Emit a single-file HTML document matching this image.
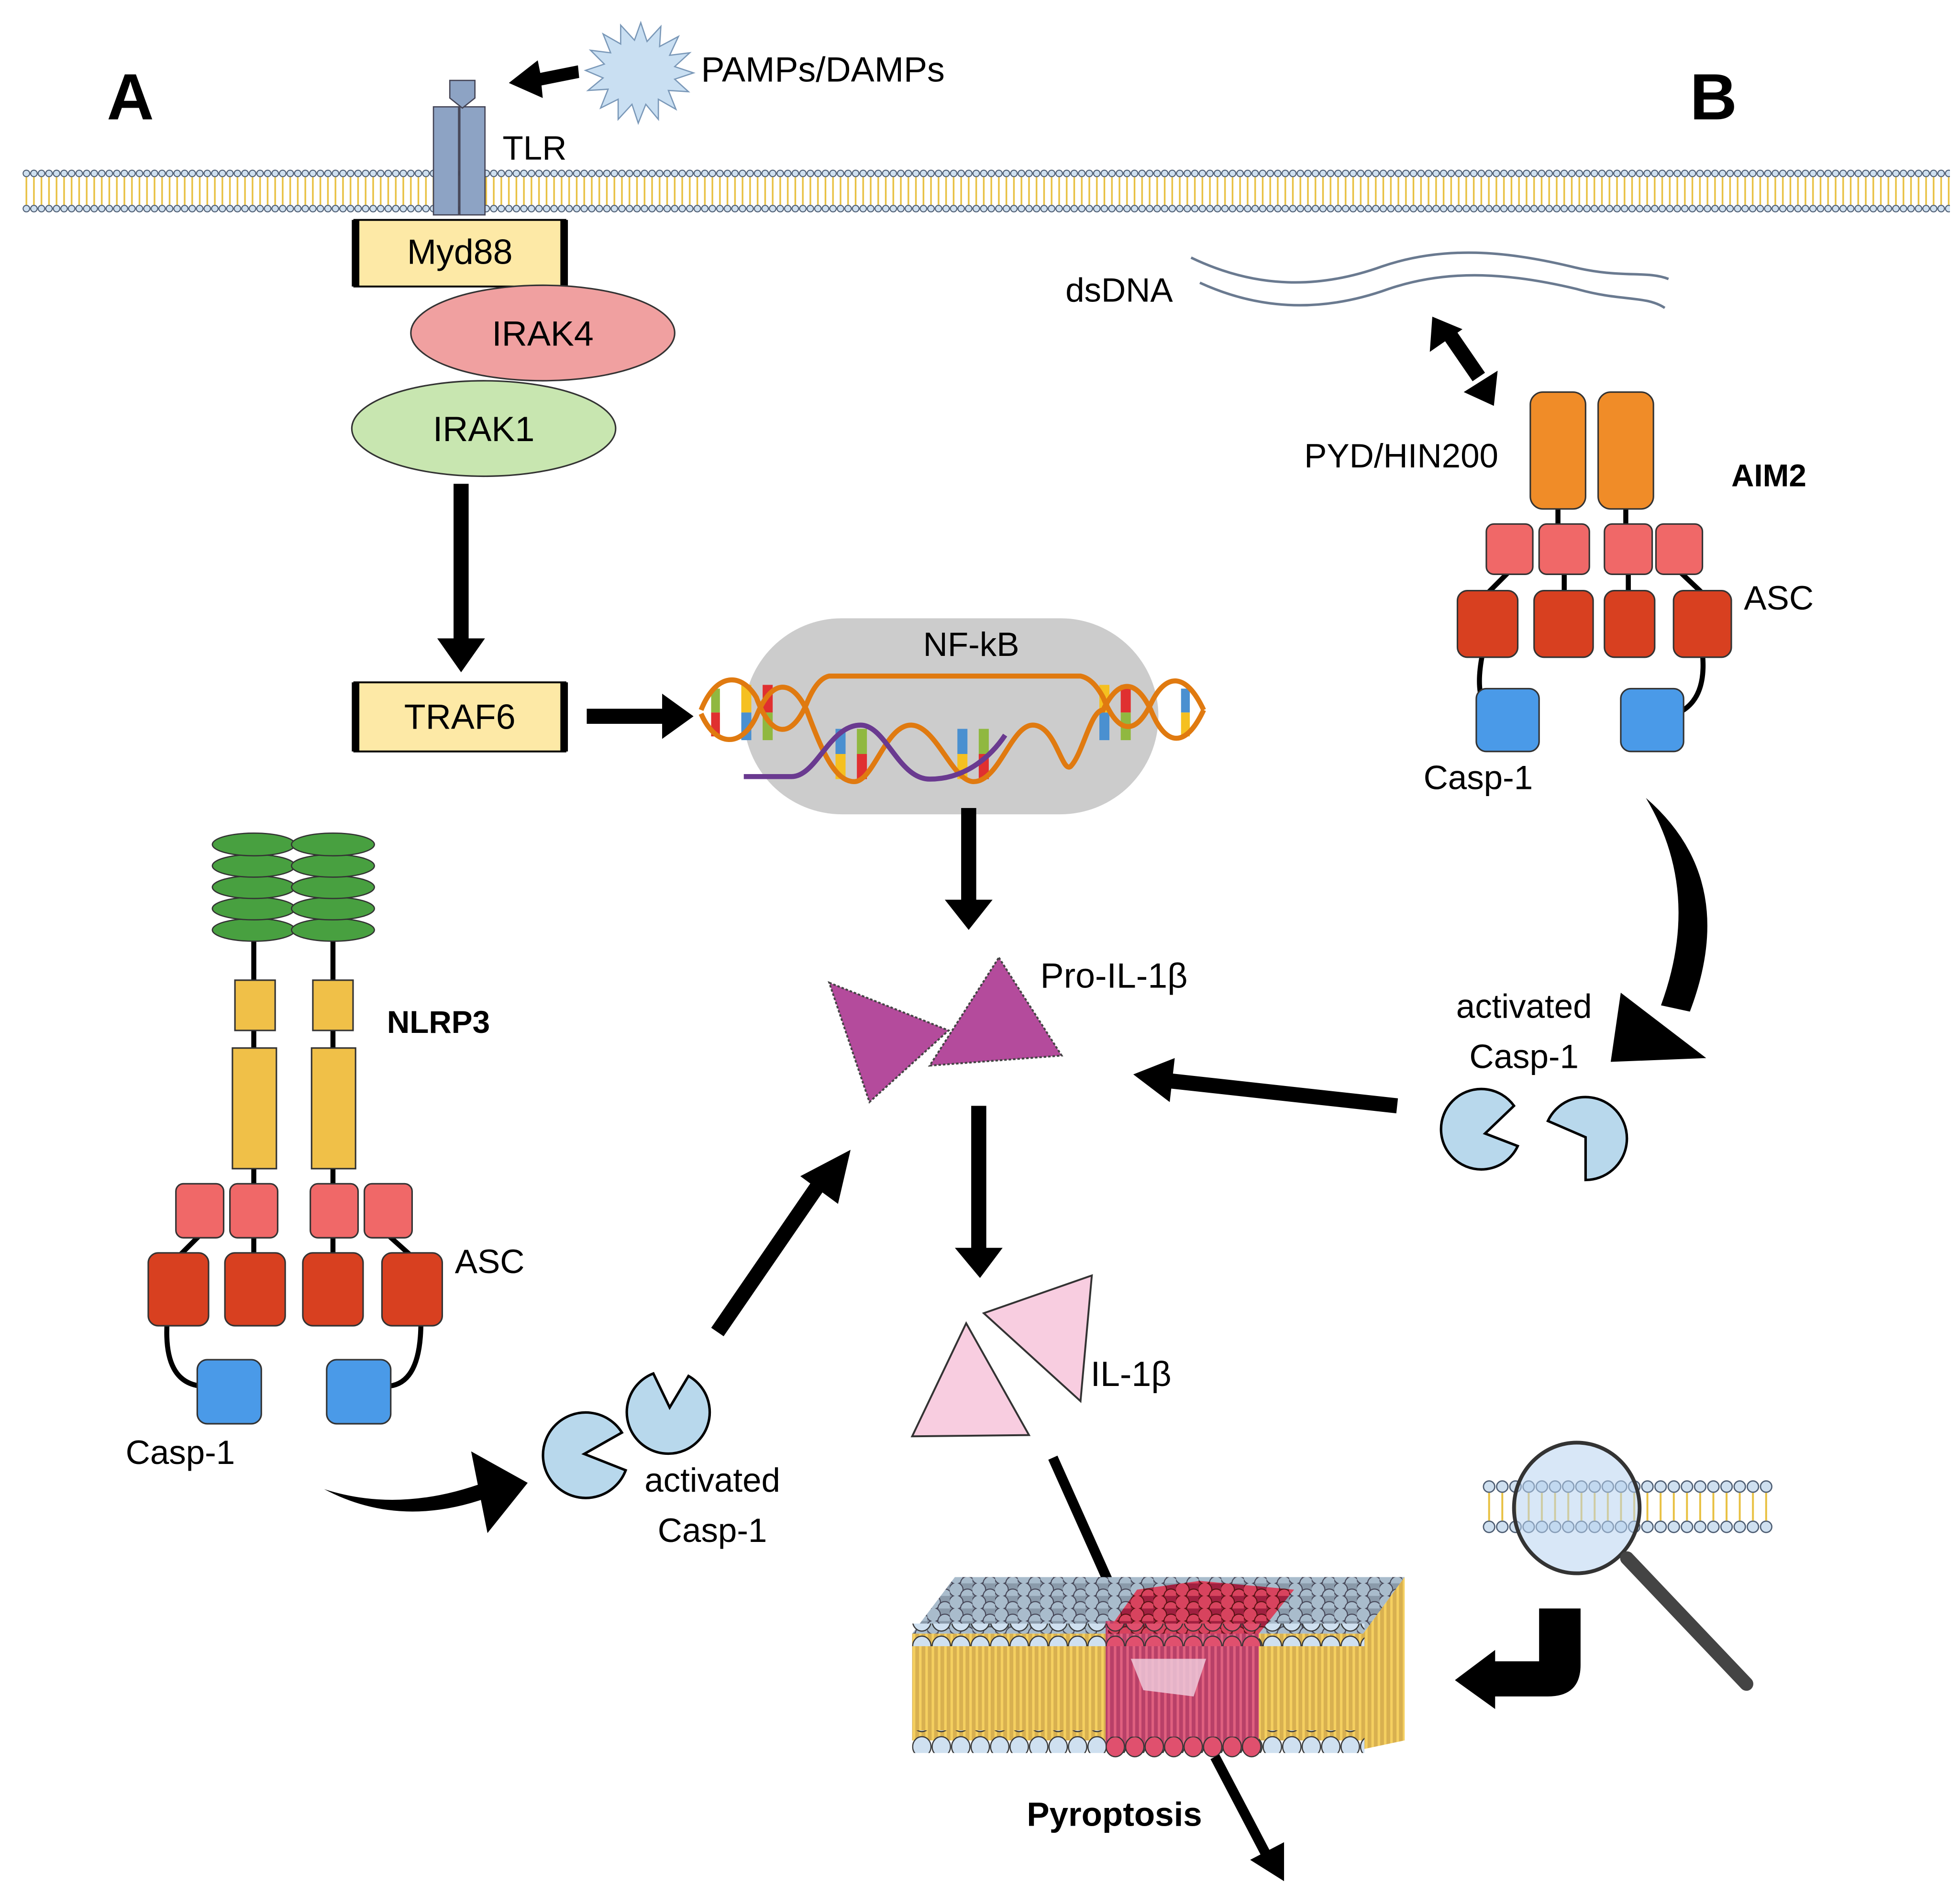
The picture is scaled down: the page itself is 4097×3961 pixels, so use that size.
<!DOCTYPE html>
<html><head><meta charset="utf-8"><style>html,body{margin:0;padding:0;background:#fff}svg{display:block}</style></head>
<body>
<svg width="4097" height="3961" viewBox="0 0 1560 1508" preserveAspectRatio="none" xmlns="http://www.w3.org/2000/svg" font-family="Liberation Sans, sans-serif">
<defs>
<pattern id="heads" x="18" y="0" width="6" height="200" patternUnits="userSpaceOnUse">
<circle cx="3" cy="138" r="2.6" fill="#cfe0f0" stroke="#4a5a70" stroke-width="0.8"/>
<circle cx="3" cy="166" r="2.6" fill="#cfe0f0" stroke="#4a5a70" stroke-width="0.8"/>
<line x1="3" y1="141" x2="3" y2="163" stroke="#e8c040" stroke-width="1.3"/>
</pattern>
<pattern id="heads2" x="1180" y="1175" width="10.5" height="48" patternUnits="userSpaceOnUse">
<circle cx="5.2" cy="8" r="4.5" fill="#cfe0f0" stroke="#4a5a70" stroke-width="1"/>
<circle cx="5.2" cy="40" r="4.5" fill="#cfe0f0" stroke="#4a5a70" stroke-width="1"/>
<line x1="5.2" y1="13" x2="5.2" y2="35" stroke="#e8c040" stroke-width="1.5"/>
</pattern>
<pattern id="slabtop" x="0" y="0" width="18" height="10" patternUnits="userSpaceOnUse">
<rect width="18" height="10" fill="#8a9aaa"/>
<circle cx="5" cy="5" r="5.5" fill="#a9bccc" stroke="#445" stroke-width="0.8"/>
<circle cx="14" cy="10" r="5.5" fill="#a9bccc" stroke="#445" stroke-width="0.8"/>
</pattern>
<pattern id="slabtopr" x="0" y="0" width="18" height="10" patternUnits="userSpaceOnUse">
<rect width="18" height="10" fill="#a02040"/>
<circle cx="5" cy="5" r="5.5" fill="#d8435e" stroke="#511" stroke-width="0.8"/>
<circle cx="14" cy="10" r="5.5" fill="#d8435e" stroke="#511" stroke-width="0.8"/>
</pattern>
<pattern id="tails" x="0" y="0" width="5" height="20" patternUnits="userSpaceOnUse">
<rect width="5" height="20" fill="#d8b050"/>
<line x1="2.5" y1="0" x2="2.5" y2="20" stroke="#f5d060" stroke-width="2"/>
</pattern>
<pattern id="ptails" x="0" y="0" width="5" height="20" patternUnits="userSpaceOnUse">
<rect width="5" height="20" fill="#b84068"/>
<line x1="2.5" y1="0" x2="2.5" y2="20" stroke="#e0607f" stroke-width="2"/>
</pattern>
<pattern id="fronth" x="726" y="0" width="15.5" height="20" patternUnits="userSpaceOnUse">
<ellipse cx="7.7" cy="10" rx="7.3" ry="8" fill="#cfe0f0" stroke="#333" stroke-width="0.9"/>
</pattern>
<pattern id="fronthr" x="880" y="0" width="15.5" height="20" patternUnits="userSpaceOnUse">
<ellipse cx="7.7" cy="10" rx="7.3" ry="8" fill="#e0506e" stroke="#333" stroke-width="0.9"/>
</pattern>
</defs>

<text x="85" y="95" font-size="52" font-weight="bold">A</text>
<text x="1345" y="95" font-size="52" font-weight="bold">B</text>

<rect x="18" y="133" width="1534" height="38" fill="url(#heads)"/>

<rect x="345" y="85" width="20" height="86" fill="#8da3c4" stroke="#445" stroke-width="1"/>
<rect x="366" y="85" width="20" height="86" fill="#8da3c4" stroke="#445" stroke-width="1"/>
<path d="M358 64 L378 64 L378 78 L368 86 L358 78 Z" fill="#8da3c4" stroke="#445" stroke-width="1"/>
<text x="400" y="127" font-size="27">TLR</text>
<path d="M460 52 L430 58 L428 48 L405 66 L432 78 L431 68 L461 62 Z" fill="#000"/>
<path fill="#c9dff2" stroke="#7a98b8" stroke-width="1"
d="M510 18 L515 33 L526 21 L525 37 L540 29 L533 44 L549 42 L537 53 L552 58 L537 63 L548 73 L532 72 L538 87 L524 79 L524 95 L514 83 L508 98 L503 83 L492 95 L492 79 L478 86 L484 71 L468 72 L480 62 L466 56 L481 51 L470 40 L486 42 L480 27 L494 35 L494 20 L505 32 Z"/>
<text x="558" y="65" font-size="28">PAMPs/DAMPs</text>

<rect x="282" y="175" width="168" height="53" fill="#fde9a6" stroke="#000" stroke-width="1.5"/>
<rect x="280" y="175" width="6" height="53" fill="#000"/><rect x="446" y="175" width="6" height="53" fill="#000"/>
<text x="366" y="210" font-size="28" text-anchor="middle">Myd88</text>
<ellipse cx="432" cy="265" rx="105" ry="38" fill="#f0a0a0" stroke="#333" stroke-width="1.2"/>
<text x="432" y="275" font-size="28" text-anchor="middle">IRAK4</text>
<ellipse cx="385" cy="341" rx="105" ry="38" fill="#c8e6b0" stroke="#333" stroke-width="1.2"/>
<text x="385" y="351" font-size="28" text-anchor="middle">IRAK1</text>
<rect x="361" y="385" width="12" height="125" fill="#000"/>
<path d="M348 508 L386 508 L367 535 Z"/>
<rect x="282" y="543" width="168" height="55" fill="#fde9a6" stroke="#000" stroke-width="1.5"/>
<rect x="280" y="543" width="6" height="55" fill="#000"/><rect x="446" y="543" width="6" height="55" fill="#000"/>
<text x="366" y="580" font-size="28" text-anchor="middle">TRAF6</text>
<rect x="467" y="564" width="62" height="12" fill="#000"/>
<path d="M527 552 L552 570 L527 588 Z"/>

<rect x="592" y="492" width="330" height="156" rx="78" fill="#cccccc"/>
<text x="773" y="522" font-size="27" text-anchor="middle">NF-kB</text>
<g stroke="none">
<rect x="590" y="545" width="8" height="22" fill="#f5c020"/><rect x="590" y="567" width="8" height="22" fill="#4a90d0"/>
<rect x="607" y="545" width="8" height="22" fill="#e03030"/><rect x="607" y="567" width="8" height="22" fill="#90b840"/>
<rect x="566" y="548" width="7" height="19" fill="#90b840"/><rect x="566" y="567" width="7" height="19" fill="#e03030"/>
<rect x="875" y="545" width="8" height="22" fill="#f5c020"/><rect x="875" y="567" width="8" height="22" fill="#4a90d0"/>
<rect x="892" y="545" width="8" height="22" fill="#e03030"/><rect x="892" y="567" width="8" height="22" fill="#90b840"/>
<rect x="940" y="548" width="7" height="19" fill="#4a90d0"/><rect x="940" y="567" width="7" height="19" fill="#f5c020"/>
<rect x="665" y="580" width="8" height="20" fill="#4a90d0"/><rect x="665" y="600" width="8" height="20" fill="#f5c020"/>
<rect x="682" y="580" width="8" height="20" fill="#90b840"/><rect x="682" y="600" width="8" height="20" fill="#e03030"/>
<rect x="762" y="580" width="8" height="20" fill="#4a90d0"/><rect x="762" y="600" width="8" height="20" fill="#f5c020"/>
<rect x="779" y="580" width="8" height="20" fill="#90b840"/><rect x="779" y="600" width="8" height="20" fill="#e03030"/>
</g>
<g stroke-width="4" fill="none">
<path d="M558 565 C570 535,590 535,602 555 C614 588,630 588,642 560 Q650 540,660 538 L860 538 Q870 540,878 555 C890 585,904 585,916 560 C928 535,944 535,958 565" stroke="#e07a10"/>
<path d="M558 568 C570 595,590 595,602 570 C614 540,630 540,642 565 C655 600,665 622,680 622 C695 622,705 577,725 577 C745 577,758 622,775 622 C795 622,805 577,822 577 C840 577,845 615,852 610 C862 600,868 565,878 565 C890 540,904 540,916 565 C928 595,944 595,958 565" stroke="#e07a10"/>
<path d="M592 618 L630 618 C650 618,660 577,685 577 C705 577,715 620,740 620 C770 620,790 600,800 585" stroke="#6a3a90"/>
</g>
<rect x="765" y="643" width="12" height="75" fill="#000"/>
<path d="M752 716 L790 716 L771 740 Z"/>

<path d="M660 782 L755 820 L692 877 Z" fill="#b44b9c" stroke="#444" stroke-width="1.5" stroke-dasharray="2 1.5"/>
<path d="M795 762 L845 840 L740 848 Z" fill="#b44b9c" stroke="#444" stroke-width="1.5" stroke-dasharray="2 1.5"/>
<text x="828" y="786" font-size="28">Pro-IL-1β</text>

<path d="M1112 880 L930 860" stroke="#000" stroke-width="12"/>
<path d="M935 842 L902 855 L931 877 Z"/>
<rect x="773" y="880" width="12" height="115" fill="#000"/>
<path d="M760 993 L798 993 L780 1017 Z"/>
<path d="M571 1060 L650 945" stroke="#000" stroke-width="12"/>
<path d="M637 936 L677 915 L667 958 Z"/>

<path d="M726 1143 L769 1053 L819 1142 Z" fill="#f8cde0" stroke="#333" stroke-width="1.5"/>
<path d="M783 1045 L869 1015 L860 1115 Z" fill="#f8cde0" stroke="#333" stroke-width="1.5"/>
<text x="868" y="1103" font-size="28">IL-1β</text>

<path d="M838 1160 L885 1265" stroke="#000" stroke-width="8"/>

<g>
<polygon points="726,1300 760,1255 1118,1255 1085,1300" fill="url(#slabtop)"/>
<polygon points="1085,1300 1118,1255 1118,1385 1085,1392" fill="url(#tails)"/>
<rect x="726" y="1300" width="360" height="85" fill="url(#tails)"/>
<rect x="726" y="1292" width="360" height="18" fill="url(#fronth)"/>
<rect x="726" y="1377" width="360" height="18" fill="url(#fronth)"/>
<rect x="880" y="1290" width="122" height="100" fill="url(#ptails)"/>
<polygon points="880,1300 1002,1300 1030,1265 955,1258 905,1265" fill="url(#slabtopr)"/>
<rect x="880" y="1292" width="124" height="18" fill="url(#fronthr)"/>
<rect x="880" y="1382" width="124" height="18" fill="url(#fronthr)"/>
<path d="M900 1320 L960 1320 L950 1350 L910 1345 Z" fill="#f0d0e0" opacity="0.8"/>
</g>
<path d="M967 1398 L1010 1480" stroke="#000" stroke-width="8"/>
<path d="M995 1480 L1022 1497 L1022 1466 Z"/>
<text x="887" y="1453" font-size="27" font-weight="bold" text-anchor="middle">Pyroptosis</text>

<rect x="1180" y="1175" width="231" height="48" fill="url(#heads2)"/>
<ellipse cx="1255" cy="1200" rx="50" ry="52" fill="#b8d4f0" fill-opacity="0.55" stroke="#333" stroke-width="3"/>
<path d="M1295 1240 L1390 1340" stroke="#444" stroke-width="11" stroke-linecap="round"/>
<path d="M1225 1280 L1258 1280 L1258 1325 Q1258 1350,1232 1350 L1190 1350 L1190 1360 L1158 1337 L1190 1313 L1190 1322 L1225 1322 Z" fill="#000"/>

<g fill="none" stroke="#6a7a90" stroke-width="2">
<path d="M948 205 C1000 230,1050 230,1100 212 C1150 195,1200 200,1250 212 C1290 222,1310 215,1328 222"/>
<path d="M955 225 C1005 248,1055 248,1105 230 C1155 213,1205 218,1255 230 C1290 240,1310 235,1325 245"/>
</g>
<text x="848" y="240" font-size="27">dsDNA</text>
<path d="M1155 268 L1177 300" stroke="#000" stroke-width="12"/>
<path d="M1138 280 L1140 252 L1164 262 Z"/>
<path d="M1165 312 L1189 323 L1192 295 Z"/>

<text x="1038" y="372" font-size="27">PYD/HIN200</text>
<text x="1378" y="387" font-size="25" font-weight="bold">AIM2</text>
<line x1="1240" y1="400" x2="1240" y2="420" stroke="#000" stroke-width="4"/>
<line x1="1294" y1="400" x2="1294" y2="420" stroke="#000" stroke-width="4"/>
<rect x="1218" y="312" width="44" height="93" rx="10" fill="#f08c28" stroke="#333" stroke-width="1.2"/>
<rect x="1272" y="312" width="44" height="93" rx="10" fill="#f08c28" stroke="#333" stroke-width="1.2"/>
<g stroke="#000" stroke-width="4" fill="none">
<line x1="1201" y1="455" x2="1184" y2="472"/><line x1="1245" y1="455" x2="1245" y2="472"/>
<line x1="1296" y1="455" x2="1296" y2="472"/><line x1="1337" y1="455" x2="1355" y2="472"/>
<path d="M1180 520 Q1170 570,1200 572"/><path d="M1355 520 Q1360 570,1315 572"/>
</g>
<g fill="#f06868" stroke="#333" stroke-width="1.2">
<rect x="1183" y="417" width="37" height="40" rx="6"/><rect x="1225" y="417" width="40" height="40" rx="6"/>
<rect x="1277" y="417" width="38" height="40" rx="6"/><rect x="1318" y="417" width="37" height="40" rx="6"/>
</g>
<g fill="#d84020" stroke="#333" stroke-width="1.2">
<rect x="1160" y="470" width="48" height="53" rx="8"/><rect x="1221" y="470" width="47" height="53" rx="8"/>
<rect x="1277" y="470" width="40" height="53" rx="8"/><rect x="1332" y="470" width="46" height="53" rx="8"/>
</g>
<rect x="1175" y="548" width="50" height="50" rx="8" fill="#4a9ae8" stroke="#333" stroke-width="1.2"/>
<rect x="1290" y="548" width="50" height="50" rx="8" fill="#4a9ae8" stroke="#333" stroke-width="1.2"/>
<text x="1388" y="485" font-size="27">ASC</text>
<text x="1133" y="628" font-size="27">Casp-1</text>

<path d="M1310 635 Q1385 700,1345 805 L1322 800 Q1355 710,1310 635 Z" fill="#000"/>
<path d="M1290 790 L1358 842 L1282 845 Z"/>
<text x="1213" y="810" font-size="27" text-anchor="middle">activated</text>
<text x="1213" y="850" font-size="27" text-anchor="middle">Casp-1</text>
<path d="M1182 902 L1208 912 A32 32 0 1 1 1205 880 Z" fill="#b8d8ec" stroke="#000" stroke-width="2"/>
<path d="M1262 905 L1232 892 A33 33 0 1 1 1262 939 Z" fill="#b8d8ec" stroke="#000" stroke-width="2"/>

<g stroke="#000" stroke-width="4">
<line x1="202" y1="748" x2="202" y2="782"/><line x1="265" y1="748" x2="265" y2="782"/>
<line x1="202" y1="818" x2="202" y2="836"/><line x1="265" y1="818" x2="265" y2="836"/>
<line x1="202" y1="928" x2="202" y2="944"/><line x1="265" y1="928" x2="265" y2="944"/>
<line x1="159" y1="983" x2="142" y2="1000"/><line x1="202" y1="983" x2="202" y2="1000"/>
<line x1="265" y1="983" x2="265" y2="1000"/><line x1="309" y1="983" x2="328" y2="1000"/>
<path d="M133 1052 Q130 1100,160 1103" fill="none"/><path d="M335 1052 Q335 1100,310 1103" fill="none"/>
</g>
<g fill="#48a040" stroke="#333" stroke-width="1">
<ellipse cx="202" cy="740" rx="33" ry="9"/><ellipse cx="202" cy="723" rx="33" ry="9"/><ellipse cx="202" cy="706" rx="33" ry="9"/><ellipse cx="202" cy="689" rx="33" ry="9"/><ellipse cx="202" cy="672" rx="33" ry="9"/>
<ellipse cx="265" cy="740" rx="33" ry="9"/><ellipse cx="265" cy="723" rx="33" ry="9"/><ellipse cx="265" cy="706" rx="33" ry="9"/><ellipse cx="265" cy="689" rx="33" ry="9"/><ellipse cx="265" cy="672" rx="33" ry="9"/>
</g>
<g fill="#f0c048" stroke="#333" stroke-width="1.2">
<rect x="187" y="780" width="32" height="40"/><rect x="249" y="780" width="32" height="40"/>
<rect x="185" y="834" width="35" height="96"/><rect x="248" y="834" width="35" height="96"/>
</g>
<text x="308" y="822" font-size="25" font-weight="bold">NLRP3</text>
<g fill="#f06868" stroke="#333" stroke-width="1.2">
<rect x="140" y="942" width="38" height="43" rx="6"/><rect x="183" y="942" width="38" height="43" rx="6"/>
<rect x="247" y="942" width="38" height="43" rx="6"/><rect x="290" y="942" width="38" height="43" rx="6"/>
</g>
<g fill="#d84020" stroke="#333" stroke-width="1.2">
<rect x="118" y="997" width="48" height="58" rx="8"/><rect x="179" y="997" width="48" height="58" rx="8"/>
<rect x="241" y="997" width="48" height="58" rx="8"/><rect x="304" y="997" width="48" height="58" rx="8"/>
</g>
<rect x="157" y="1082" width="51" height="51" rx="8" fill="#4a9ae8" stroke="#333" stroke-width="1.2"/>
<rect x="260" y="1082" width="51" height="51" rx="8" fill="#4a9ae8" stroke="#333" stroke-width="1.2"/>
<text x="362" y="1013" font-size="27">ASC</text>
<text x="100" y="1165" font-size="27">Casp-1</text>

<path d="M258 1185 Q320 1205,390 1178 L393 1190 Q320 1218,258 1185 Z" fill="#000"/>
<path d="M375 1155 L420 1180 L388 1220 Z"/>
<path d="M465 1157 L498 1170 A34 34 0 1 1 495 1140 Z" fill="#b8d8ec" stroke="#000" stroke-width="2"/>
<path d="M533 1120 L548 1095 A33 33 0 1 1 520 1093 Z" fill="#b8d8ec" stroke="#000" stroke-width="2"/>
<text x="567" y="1187" font-size="27" text-anchor="middle">activated</text>
<text x="567" y="1227" font-size="27" text-anchor="middle">Casp-1</text>
</svg>
</body></html>
